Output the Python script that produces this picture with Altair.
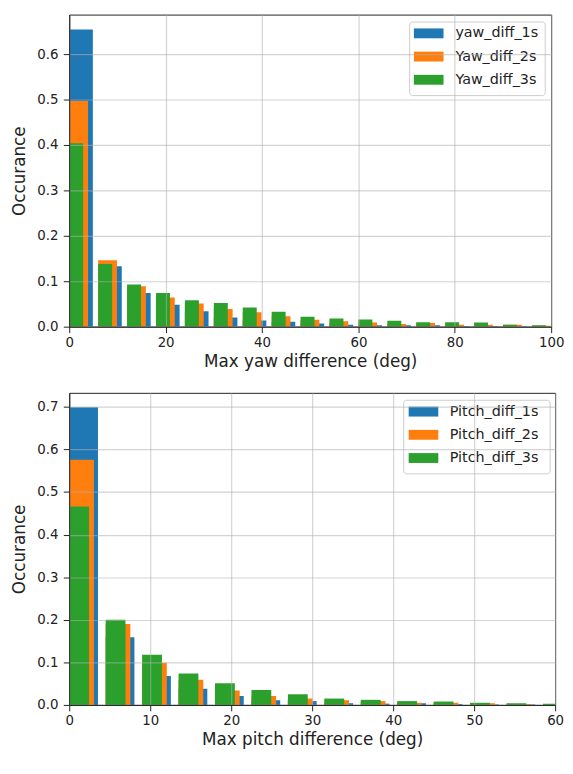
import altair as alt
import pandas as pd

# ---- data ----
yaw_bins = [0, 6, 12, 18, 24, 30, 36, 42, 48, 54, 60, 66, 72, 78, 84, 90, 96]
yaw_1s = [0.654, 0.133, 0.074, 0.048, 0.034, 0.020, 0.0135, 0.011, 0.007, 0.004,
          0.003, 0.003, 0.003, 0.0015, 0.0015, 0.001, 0.001]
yaw_2s = [0.497, 0.146, 0.089, 0.064, 0.051, 0.039, 0.032, 0.023, 0.015, 0.012,
          0.009, 0.006, 0.008, 0.004, 0.004, 0.004, 0.002]
yaw_3s = [0.404, 0.138, 0.093, 0.074, 0.058, 0.052, 0.042, 0.033, 0.022, 0.018,
          0.016, 0.013, 0.010, 0.010, 0.009, 0.004, 0.003]
yaw_names = ["yaw_diff_1s", "Yaw_diff_2s", "Yaw_diff_3s"]

pitch_bins = [0, 4.5, 9, 13.5, 18, 22.5, 27, 31.5, 36, 40.5, 45, 49.5, 54, 58.5]
pitch_1s = [0.699, 0.159, 0.068, 0.038, 0.021, 0.011, 0.009, 0.004, 0.003, 0.004,
            0.002, 0.001, 0.001, 0.001]
pitch_2s = [0.576, 0.190, 0.099, 0.059, 0.034, 0.021, 0.015, 0.011, 0.009, 0.005,
            0.005, 0.004, 0.002, 0.001]
pitch_3s = [0.466, 0.200, 0.118, 0.074, 0.051, 0.035, 0.025, 0.015, 0.012, 0.009,
            0.008, 0.005, 0.004, 0.003]
pitch_names = ["Pitch_diff_1s", "Pitch_diff_2s", "Pitch_diff_3s"]

colors = ["#1f77b4", "#ff7f0e", "#2ca02c"]
yaw_widths = [4.9, 3.9, 2.9]
pitch_widths = [3.55, 3.05, 2.45]

FONT = "DejaVu Sans"
TXT = "#222222"


def build_df(bins, series, names, widths):
    rows = []
    for vals, name, w in zip(series, names, widths):
        for b, v in zip(bins, vals):
            rows.append({"start": b, "end": min(b + w, bins[-1] + widths[0]), "value": v, "series": name})
    return pd.DataFrame(rows)


def axis(values, fmt, title, label_pad, title_pad):
    return alt.Axis(values=values, format=fmt, title=title, zindex=1,
                    labelFont=FONT, labelFontSize=13.5, labelColor=TXT,
                    titleFont=FONT, titleFontSize=17, titleFontWeight="normal",
                    titleColor=TXT, tickColor=TXT, tickSize=6, domainColor=TXT,
                    gridColor="#b0b0b0", gridOpacity=0.55, gridWidth=1.2,
                    labelPadding=label_pad, titlePadding=title_pad, labelFlush=False)


def legend_layers(names, W, frame_w, gap, sw_dx, tx_dx):
    fx2 = W - gap
    fx1 = fx2 - frame_w
    layers = [
        alt.Chart(pd.DataFrame({"series": [names[0]]})).mark_rect(
            fill="white", fillOpacity=0.8, stroke="#cccccc", strokeWidth=1,
            cornerRadius=3).encode(
            x=alt.value(fx1), x2=alt.value(fx2), y=alt.value(7.5), y2=alt.value(82))
    ]
    row_y = [19, 42.5, 66]
    for i, name in enumerate(names):
        d = pd.DataFrame({"series": [name]})
        layers.append(alt.Chart(d).mark_rect(color=colors[i]).encode(
            x=alt.value(fx1 + sw_dx), x2=alt.value(fx1 + sw_dx + 30),
            y=alt.value(row_y[i] - 5), y2=alt.value(row_y[i] + 5)))
        layers.append(alt.Chart(d).mark_text(
            align="left", baseline="middle", font=FONT, fontSize=14.5, color=TXT).encode(
            x=alt.value(fx1 + tx_dx), y=alt.value(row_y[i]), text="series:N"))
    return layers


def panel(df, names, xmax, xticks, ymax, yticks, xtitle, w, h, frame_w, gap, sw_dx, tx_dx):
    bars = alt.Chart(df).mark_rect(clip=True).encode(
        x=alt.X("start:Q", scale=alt.Scale(domain=[0, xmax], nice=False, zero=False),
                axis=axis(xticks, "d", xtitle, 3, 5)),
        x2="end:Q",
        y=alt.Y("value:Q", scale=alt.Scale(domain=[0, ymax], nice=False),
                axis=axis(yticks, ".1f", "Occurance", 5.5, 8)),
        y2=alt.datum(0),
        color=alt.Color("series:N", scale=alt.Scale(domain=names, range=colors),
                        legend=None),
    )
    return alt.layer(bars, *legend_layers(names, w, frame_w, gap, sw_dx, tx_dx)).properties(
        width=w, height=h)


top = panel(build_df(yaw_bins, [yaw_1s, yaw_2s, yaw_3s], yaw_names, yaw_widths),
            yaw_names, 100, [0, 20, 40, 60, 80, 100], 0.687,
            [0, 0.1, 0.2, 0.3, 0.4, 0.5, 0.6], "Max yaw difference (deg)", 488, 316,
            137.3, 6, 4.3, 46.3)
bottom = panel(build_df(pitch_bins, [pitch_1s, pitch_2s, pitch_3s], pitch_names, pitch_widths),
               pitch_names, 60, [0, 10, 20, 30, 40, 50, 60], 0.733,
               [0, 0.1, 0.2, 0.3, 0.4, 0.5, 0.6, 0.7], "Max pitch difference (deg)", 492, 316,
               148.3, 5, 5, 46.6)

chart = alt.vconcat(top, bottom, spacing=22).resolve_scale(
    color="independent").properties(
    padding={"left": 2, "top": 1, "right": 0, "bottom": 0}
).configure_view(stroke=TXT, strokeWidth=1)

chart.save("out.html", embed_options={"renderer": "svg", "actions": False})
